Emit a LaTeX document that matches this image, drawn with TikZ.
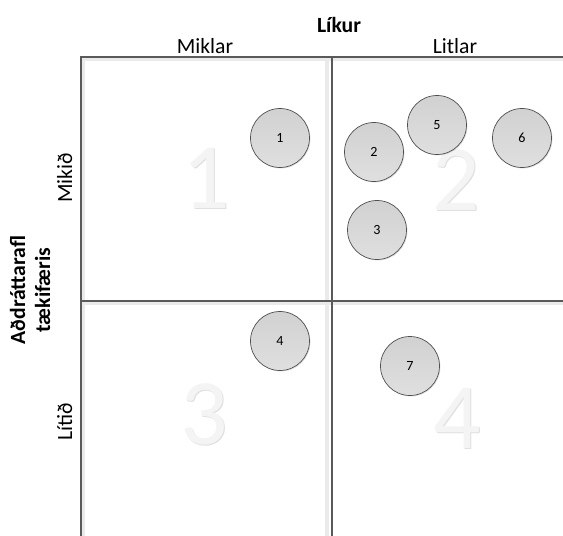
\documentclass[tikz,border=0pt]{standalone}
\usepackage{fontspec}
\setmainfont{Carlito}
\usepackage{tikz}
\usetikzlibrary{shadows}

\definecolor{gridline}{HTML}{5A5A5A}
\definecolor{gridband}{HTML}{EAEAEA}
\definecolor{bigdigit}{HTML}{F4F4F4}
\definecolor{digitshade}{HTML}{E0E0E0}
\definecolor{bubbleedge}{HTML}{505050}

\tikzset{
  bubble/.style={circle, draw=bubbleedge, line width=0.6pt, inner sep=0pt,
    minimum size=1.77cm, top color=gray!36, bottom color=gray!25,
    font=\fontsize{12}{14}\selectfont,
    drop shadow={opacity=0.25, shadow xshift=0.8pt, shadow yshift=-0.8pt}},
  axislabel/.style={anchor=base, font=\fontsize{18.5}{22}\selectfont},
  quadnum/.style={inner sep=0pt, font=\fontsize{80}{80}\selectfont}
}

\begin{document}
\begin{tikzpicture}[x=0.03cm,y=-0.03cm]
      \useasboundingbox (0,0) rectangle (563,536);
      % light bands beside the grid lines
      \fill[gridband] (82,58) rectangle (85,536);
      \fill[gridband] (82,58) rectangle (563,61);
      \fill[gridband] (325,58) rectangle (329,536);
      \fill[gridband] (82,302) rectangle (563,305);
      % grid
      \draw[gridline, line width=1.2pt] (81,536) -- (81,57) -- (563,57);
      \draw[gridline, line width=1.2pt] (332,57) -- (332,536);
      \draw[gridline, line width=1.2pt] (81,301) -- (563,301);
      % axis titles
      \node[axislabel, font=\fontsize{18.5}{22}\selectfont\bfseries] (likur) at (339,33) {Líkur};
      \node[axislabel] (miklar) at (205,54) {Miklar};
      \node[axislabel] (litlar) at (455,54) {Litlar};
      \node[axislabel, rotate=90, font=\fontsize{18.5}{22}\selectfont\bfseries] (adr) at (25,290) {Aðdráttarafl};
      \node[axislabel, rotate=90, font=\fontsize{18.5}{22}\selectfont\bfseries] (taek) at (50,290) {tækifæris};
      \node[axislabel, rotate=90] (mikid) at (72,178) {Mikið};
      \node[axislabel, rotate=90] (litid) at (72,422) {Lítið};
      % quadrant numbers
      \foreach \q/\x/\y in {1/206/178, 2/456/180, 3/204/414, 4/457/418} {
        \node[quadnum, text=digitshade] at (\x+1.5,\y+1.5) {\q};
        \node[quadnum, text=bigdigit] (q\q) at (\x,\y) {\q};
      }
      % opportunities
      \foreach \n/\x/\y in {1/280/138, 2/374/152, 3/377/230, 4/280/341, 5/437/125, 6/522/138, 7/410/366} {
        \node[bubble] (b\n) at (\x,\y) {\n};
      }
    \end{tikzpicture}
\end{document}
